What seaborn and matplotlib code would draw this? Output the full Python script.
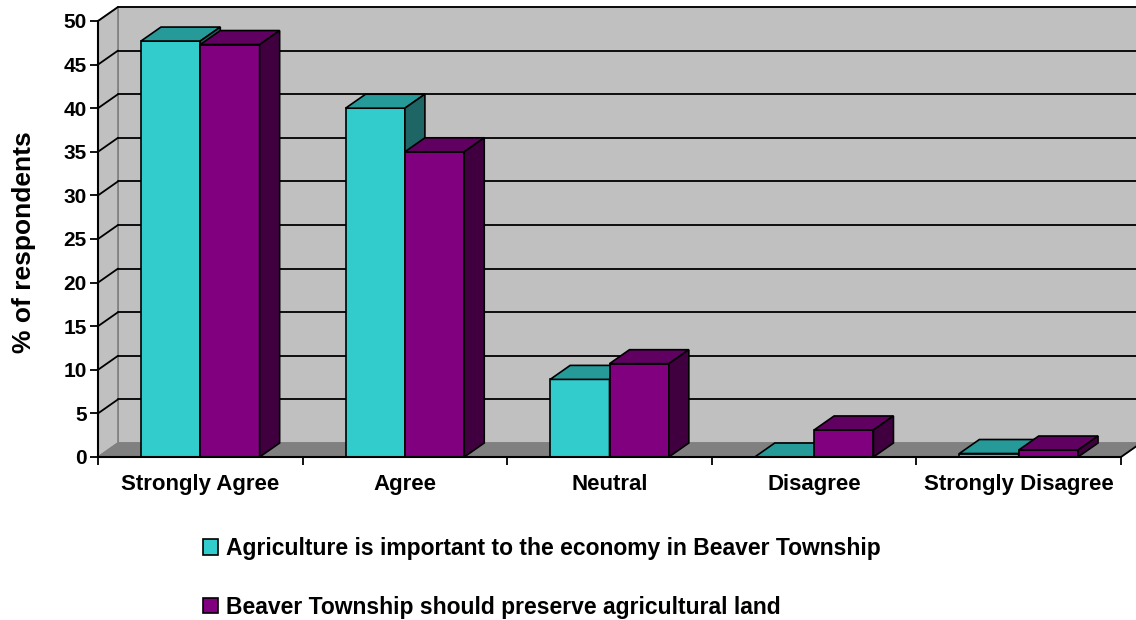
import matplotlib
matplotlib.use("Agg")
import matplotlib.pyplot as plt
from matplotlib.patches import Polygon, Patch, Rectangle
import seaborn as sns
import pandas as pd

categories = ["Strongly Agree", "Agree", "Neutral", "Disagree", "Strongly Disagree"]
economy = [47.7, 40.0, 8.9, 0.0, 0.4]
preserve = [47.3, 35.0, 10.7, 3.1, 0.8]
series_names = [
    "Agriculture is important to the economy in Beaver Township",
    "Beaver Township should preserve agricultural land",
]
y_ticks = list(range(0, 55, 5))

front_colors = ["#33CCCC", "#800080"]
top_colors = ["#269999", "#600060"]
side_colors = ["#1E6666", "#400040"]

df = pd.DataFrame({
    "category": categories * 2,
    "value": economy + preserve,
    "series": [series_names[0]] * len(categories) + [series_names[1]] * len(categories),
})

sns.set_theme(style="white")
plt.rcParams["font.family"] = ["Liberation Sans", "DejaVu Sans"]
plt.rcParams["font.weight"] = "bold"
plt.rcParams["text.color"] = "black"
plt.rcParams["axes.labelcolor"] = "black"
plt.rcParams["xtick.color"] = "black"
plt.rcParams["ytick.color"] = "black"

W, H = 1136, 620
fig = plt.figure(figsize=(W / 100, H / 100), dpi=100)
left_px, right_px, y0_px, y50_px = 98, 1121, 457, 21
ax = fig.add_axes([left_px / W, 1 - y0_px / H, (right_px - left_px) / W, (y0_px - y50_px) / H])
ax.patch.set_visible(False)

sns.barplot(data=df, x="category", y="value", hue="series", palette=front_colors,
            width=0.58, saturation=1, edgecolor="black", linewidth=1.2, ax=ax,
            legend=False, zorder=3)
ax.set_xlim(-0.5, len(categories) - 0.5)
ax.set_ylim(0, 50)

# depth of the 3-D box, in data units (20 px right, 14 px up)
px_x = (right_px - left_px) / len(categories)
px_y = (y0_px - y50_px) / 50
ddx = 20 / px_x
ddy = 14 / px_y

xl, xr = -0.5, len(categories) - 0.5
wall_col, floor_col, edge_gray = "#C0C0C0", "#808080", "#808080"

# back wall, side wall and floor
ax.add_patch(Rectangle((xl + ddx, ddy), xr - xl, 50, facecolor=wall_col, edgecolor=edge_gray,
                       lw=1.2, clip_on=False, zorder=0))
ax.add_patch(Polygon([(xl, 0), (xl, 50), (xl + ddx, 50 + ddy), (xl + ddx, ddy)], closed=True,
                     facecolor=wall_col, edgecolor=edge_gray, lw=1.2, clip_on=False, zorder=0))
ax.add_patch(Polygon([(xl, 0), (xr, 0), (xr + ddx, ddy), (xl + ddx, ddy)], closed=True,
                     facecolor=floor_col, edgecolor=edge_gray, lw=1.0, clip_on=False, zorder=0.5))
ax.plot([xr, xr + ddx], [0, ddy], color="black", lw=1.3, clip_on=False, zorder=1)

# gridlines on the walls
for v in y_ticks[1:]:
    ax.plot([xl + ddx, xr + ddx], [v + ddy, v + ddy], color="black", lw=1.3, clip_on=False, zorder=0.6)
    ax.plot([xl, xl + ddx], [v, v + ddy], color="black", lw=1.3, clip_on=False, zorder=0.6)

# top and side faces of each bar
bars = [p for p in ax.patches if isinstance(p, Rectangle) and p.get_width() < 0.5 and p.get_zorder() == 3]
n = len(categories)
for i, bar in enumerate(bars):
    s = i // n
    x0 = bar.get_x()
    x1 = x0 + bar.get_width()
    v = bar.get_height()
    z = 3 + s
    bar.set_zorder(z)
    ax.add_patch(Polygon([(x0, v), (x1, v), (x1 + ddx, v + ddy), (x0 + ddx, v + ddy)], closed=True,
                         facecolor=top_colors[s], edgecolor="black", lw=1.2, clip_on=False, zorder=z))
    ax.add_patch(Polygon([(x1, 0), (x1, v), (x1 + ddx, v + ddy), (x1 + ddx, ddy)], closed=True,
                         facecolor=side_colors[s], edgecolor="black", lw=1.2, clip_on=False, zorder=z))

# axes frame and ticks
sns.despine(ax=ax, top=True, right=True)
for side in ("left", "bottom"):
    ax.spines[side].set_color("black")
    ax.spines[side].set_linewidth(1.5)
    ax.spines[side].set_zorder(6)
ax.set_yticks(y_ticks)
ax.set_yticklabels([str(t) for t in y_ticks], fontsize=15, fontweight="bold")
ax.tick_params(axis="y", which="major", direction="out", length=6, width=1.3, color="black", pad=2, left=True)
ax.set_xticks(range(n))
ax.set_xticklabels(categories, fontsize=16, fontweight="bold")
ax.set_xticks([k - 0.5 for k in range(n + 1)], minor=True)
ax.tick_params(axis="x", which="major", length=0, pad=12)
ax.tick_params(axis="x", which="minor", direction="out", length=6, width=1.3, color="black", bottom=True)
ax.set_xlabel("")
ax.set_ylabel("% of respondents", fontsize=19, fontweight="bold")
ax.yaxis.set_label_coords((36 - left_px) / (right_px - left_px), (y0_px - 242) / (y0_px - y50_px))
ax.grid(False)

handles = [Patch(facecolor=front_colors[k], edgecolor="black", lw=1.2) for k in range(2)]
fig.legend(handles, series_names, loc="upper left", bbox_to_anchor=(203 / W, 1 - 537 / H),
           frameon=False, prop={"size": 16.5, "weight": "bold"}, handlelength=0.66, handleheight=0.66,
           handletextpad=0.35, labelspacing=1.55, borderpad=0, borderaxespad=0)

fig.savefig("out.png", dpi=100)
